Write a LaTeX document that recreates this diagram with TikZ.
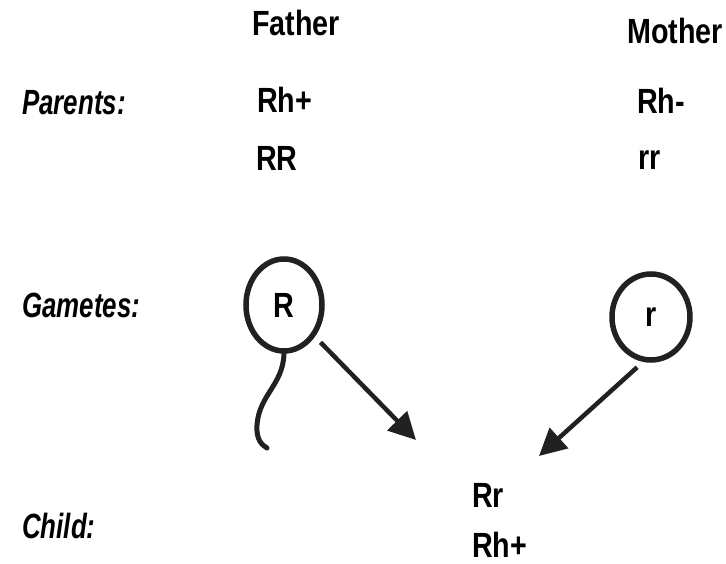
\documentclass[tikz,border=0pt]{standalone}
\usepackage{fontspec}
\setmainfont{Liberation Sans}[FakeStretch=0.82]
\newfontfamily\rowfont{Liberation Sans}[FakeStretch=0.74]
\usepackage{xcolor}
\usetikzlibrary{shapes.geometric,arrows.meta}
\definecolor{inkgray}{RGB}{35,32,32}

\begin{document}
\begin{tikzpicture}[x=1pt,y=-1pt,
    lbl/.style={anchor=base west, inner sep=0pt,
        font=\fontsize{35}{40}\selectfont\bfseries},
    rowlbl/.style={lbl, font=\rowfont\fontsize{35}{40}\selectfont\bfseries\itshape},
    gamete/.style={draw=inkgray, ellipse, line width=5.5pt, inner sep=0pt,
        font=\fontsize{35}{40}\selectfont\bfseries},
    cross/.style={draw=inkgray, line width=4.5pt, shorten <=8pt,
        -{Triangle[length=27pt,width=27pt]}},
    tail/.style={draw=inkgray, line width=5pt, line cap=round}
]
\useasboundingbox (0,0) rectangle (726,564);

% parents
\node[lbl] (father) at (252,36) {Father};
\node[lbl] (mother) at (627,44) {Mother};
\node[rowlbl] (parents) at (22,115) {Parents:};
\node[lbl] (fphen) at (257,113) {Rh+};
\node[lbl] (mphen) at (637,114) {Rh-};
\node[lbl] (fgeno) at (256,171) {RR};
\node[lbl] (mgeno) at (638,170) {rr};

% gametes
\node[rowlbl] (gametes) at (22,317) {Gametes:};
\node[gamete, minimum width=76pt, minimum height=92pt] (gamR) at (284,305) {R};
\node[gamete, minimum width=78pt, minimum height=86pt] (gamr) at (651,317) {r};

% child
\node[rowlbl] (child) at (22,538) {Child:};
\node[lbl] (cgeno) at (472,507) {Rr};
\node[lbl] (cphen) at (472,557) {Rh+};

\coordinate (tipR) at (416,440);
\coordinate (tipr) at (539,456);

\draw[tail] (gamR.south) .. controls (283,385) and (259,395) .. (257,425)
    .. controls (256,440) and (262,445) .. (267,448);
\draw[cross] (gamR) -- (tipR);
\draw[cross] (gamr.-100) -- (tipr);

\end{tikzpicture}
\end{document}
